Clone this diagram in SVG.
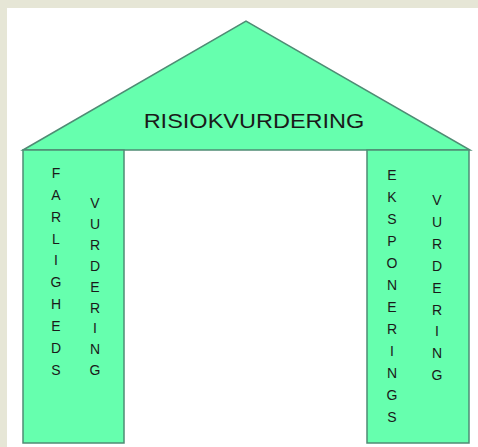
<svg xmlns="http://www.w3.org/2000/svg" width="478" height="447" viewBox="0 0 478 447">
<style>
.shape{fill:#66ffae;stroke:#4f8c74;stroke-width:1.5}
.t{font-family:"Liberation Sans",Arial,sans-serif;fill:#1a1a1a;text-anchor:middle}
.v{font-size:14px}
</style>
<rect x="0" y="0" width="478" height="447" fill="#e6e6d6"/>
<rect x="7" y="8" width="471" height="439" fill="#ffffff"/>
<g id="roof">
<polygon class="shape" points="23,150 246,21 470,150"/>
<text class="t" x="0" y="0" font-size="21" transform="translate(254,128) scale(1.12,1)">RISIOKVURDERING</text>
</g>
<g id="left-pillar">
<rect class="shape" x="23" y="150" width="101" height="293"/>
<text class="t v" x="56"><tspan x="56" y="178">F</tspan><tspan x="56" y="200">A</tspan><tspan x="56" y="222">R</tspan><tspan x="56" y="244">L</tspan><tspan x="56" y="265">I</tspan><tspan x="56" y="287">G</tspan><tspan x="56" y="309">H</tspan><tspan x="56" y="331">E</tspan><tspan x="56" y="353">D</tspan><tspan x="56" y="375">S</tspan></text>
<text class="t v" x="95"><tspan x="95" y="208">V</tspan><tspan x="95" y="229">U</tspan><tspan x="95" y="250">R</tspan><tspan x="95" y="271">D</tspan><tspan x="95" y="292">E</tspan><tspan x="95" y="313">R</tspan><tspan x="95" y="333">I</tspan><tspan x="95" y="354">N</tspan><tspan x="95" y="375">G</tspan></text>
</g>
<g id="right-pillar">
<rect class="shape" x="367" y="150" width="102" height="293"/>
<text class="t v" x="392"><tspan x="392" y="180">E</tspan><tspan x="392" y="202">K</tspan><tspan x="392" y="224">S</tspan><tspan x="392" y="246">P</tspan><tspan x="392" y="268">O</tspan><tspan x="392" y="290">N</tspan><tspan x="392" y="312">E</tspan><tspan x="392" y="334">R</tspan><tspan x="392" y="356">I</tspan><tspan x="392" y="378">N</tspan><tspan x="392" y="400">G</tspan><tspan x="392" y="422">S</tspan></text>
<text class="t v" x="437"><tspan x="437" y="205">V</tspan><tspan x="437" y="227">U</tspan><tspan x="437" y="249">R</tspan><tspan x="437" y="271">D</tspan><tspan x="437" y="293">E</tspan><tspan x="437" y="315">R</tspan><tspan x="437" y="336">I</tspan><tspan x="437" y="358">N</tspan><tspan x="437" y="380">G</tspan></text>
</g>
<g id="connectors"></g>
</svg>
